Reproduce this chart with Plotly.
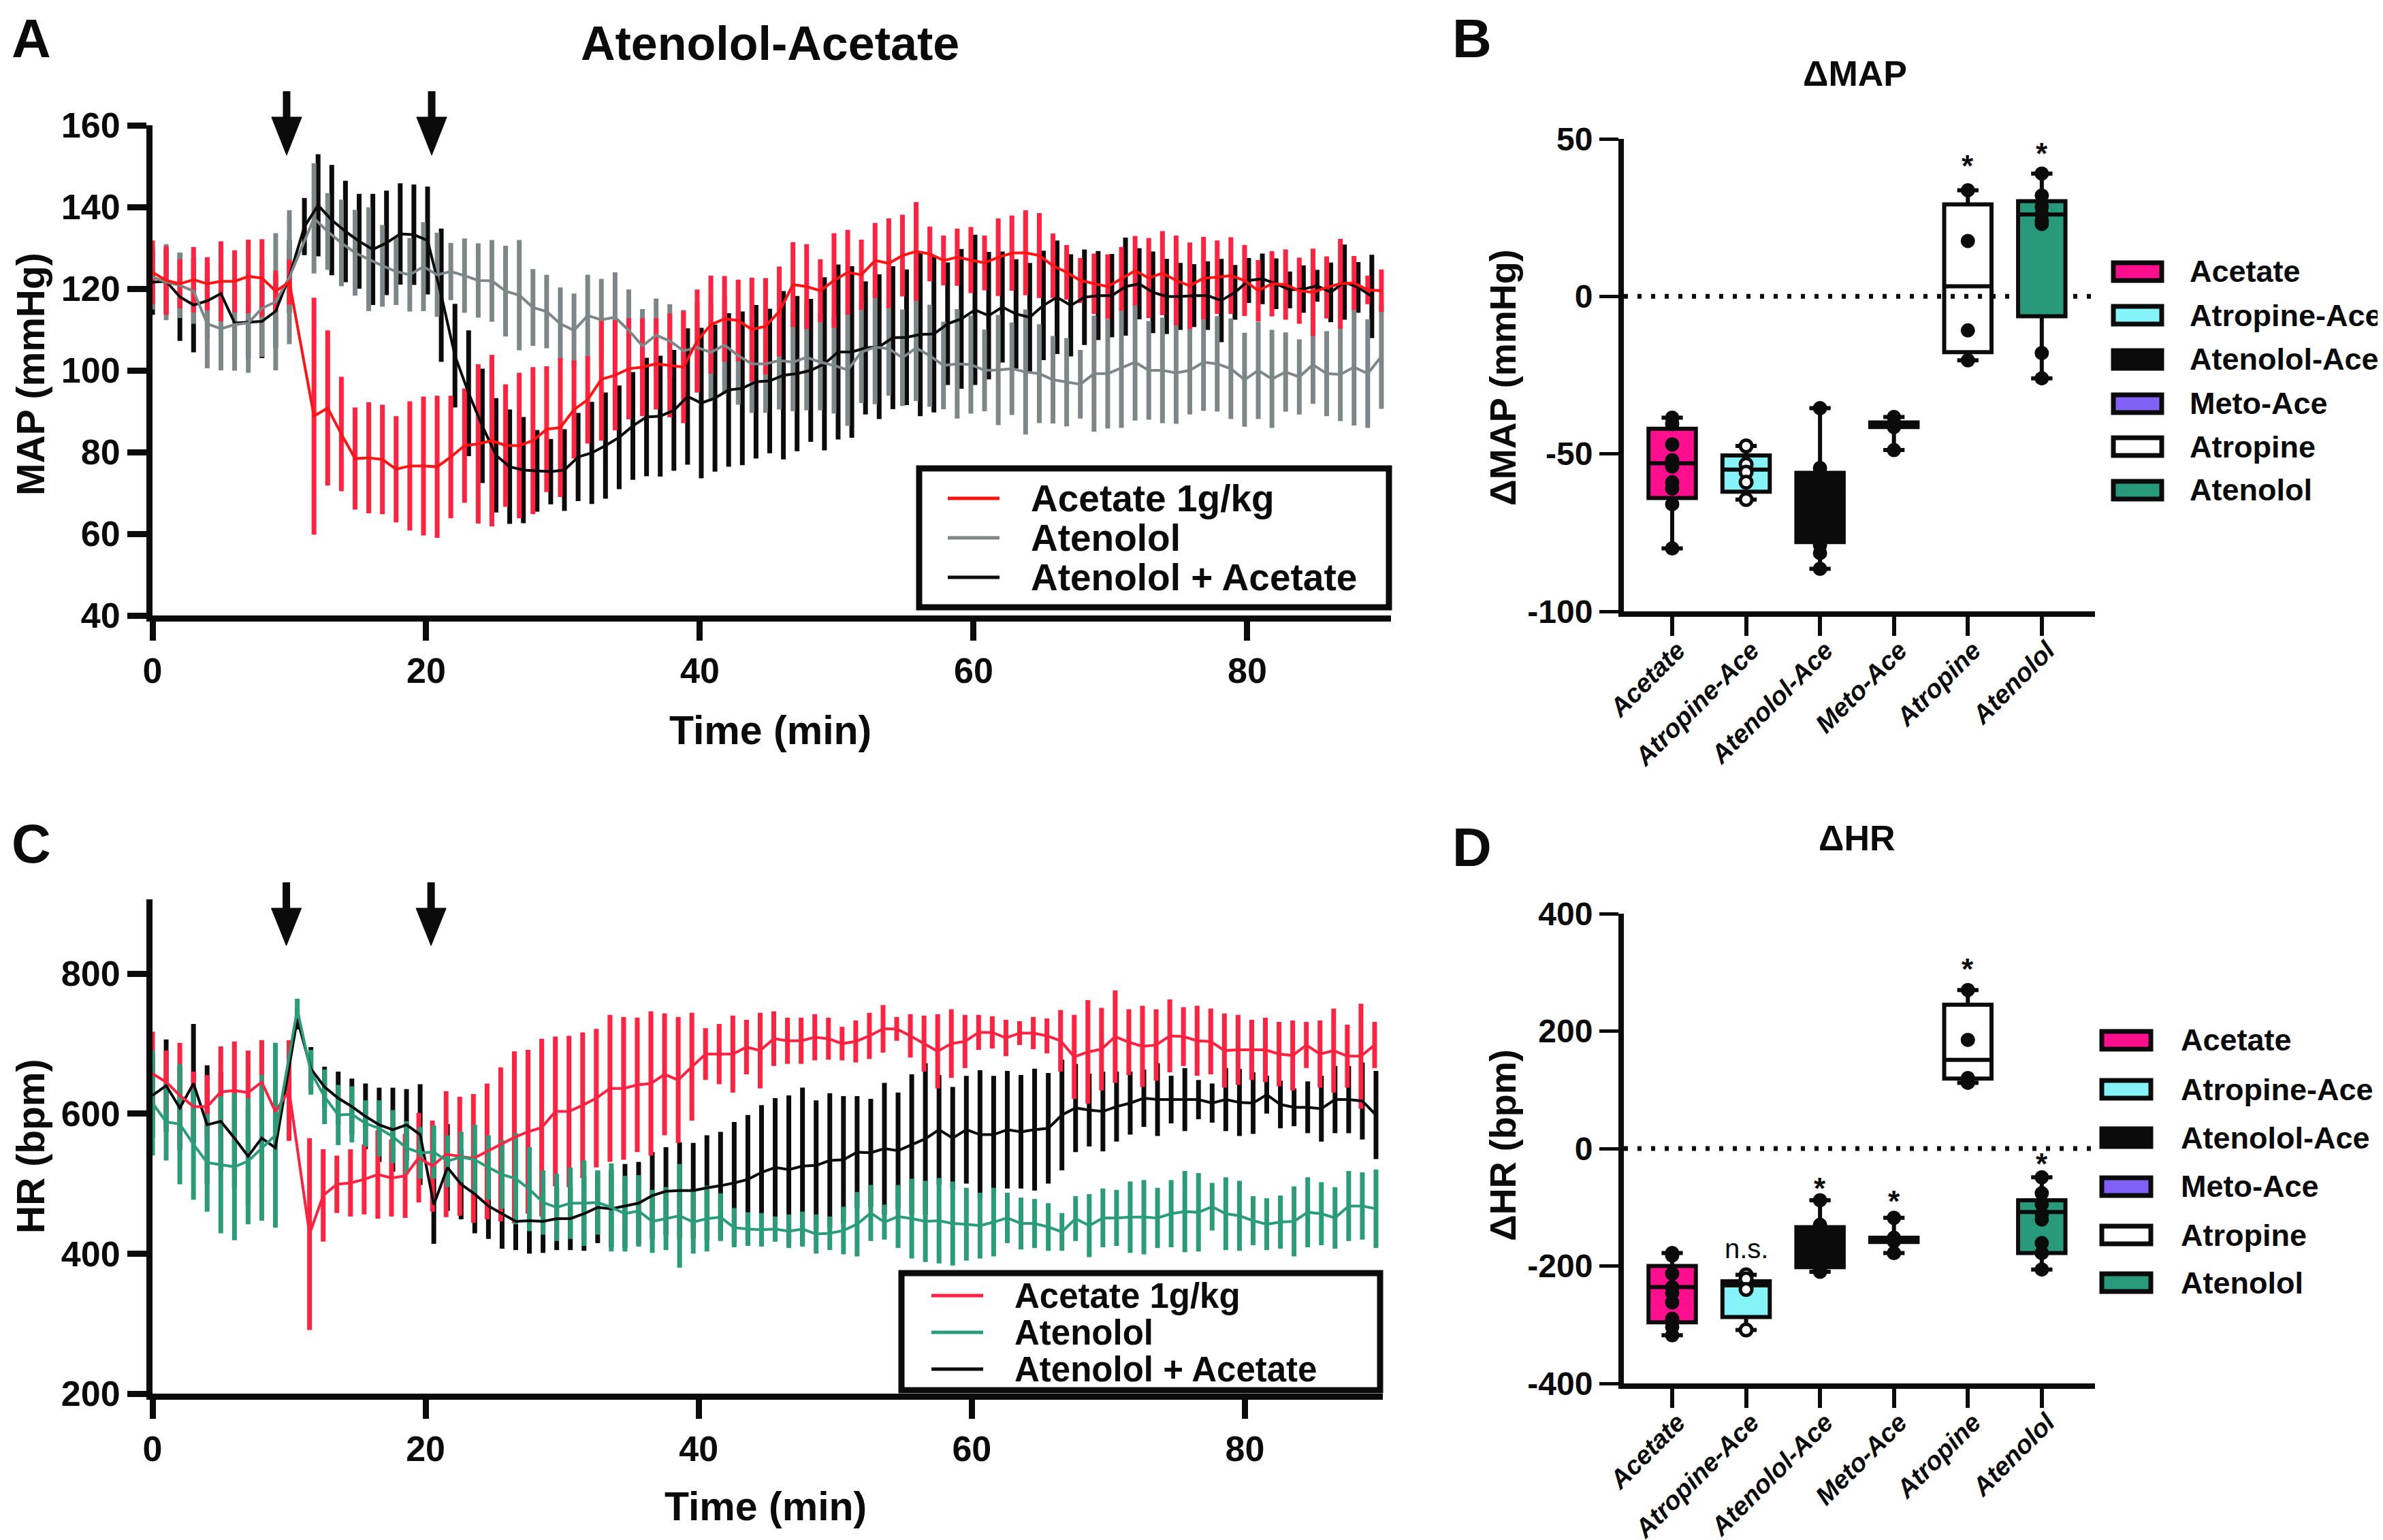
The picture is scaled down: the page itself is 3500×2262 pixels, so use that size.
import plotly.graph_objects as go

W, H = 3500, 2262
FONT = "Liberation Sans, Arial, Helvetica, sans-serif"

# ======================= DATA =======================
# ---- Panel A: MAP (mmHg), mean and SEM ----
MAP_ACE_MEAN = [124, 122, 121.2, 122.2, 121.2, 121.8, 121.8, 123, 122.6, 119.4, 121.6,
                88.8, 90.8, 84.4, 78.4, 78.6, 78.2, 75.8, 76.6, 76.6, 76.4,
                78.8, 81.6, 82, 82.8, 81.6, 81.6, 82.8, 85.6, 86, 90.4,
                92.8, 97.8, 98.8, 100.4, 100.8, 101.6, 101.2, 100.8, 107.2, 111.2,
                112.6, 112.2, 110, 110.8, 114.4, 121, 120.5, 119.5, 122, 124,
                123.4, 126.9, 126.2, 128.1, 129.1, 128.5, 126.9, 127.7, 127, 126.3,
                127.7, 128.7, 128.8, 128.1, 125.6, 124, 122, 121.2, 120.5, 122.4,
                124.4, 122.6, 123.8, 122, 120.7, 122.6, 122.8, 123.2, 122, 119.5,
                121.2, 121, 119.5, 119.1, 120.3, 121.2, 121.4, 119.7, 119.5]
MAP_ACE_SEM = [7.8, 8.4, 6, 8, 6.5, 9.8, 7.6, 9, 9.5, 5, 5.5,
               29, 19, 14, 12.5, 13.6, 13.4, 13, 15.8, 17, 17.4,
               15, 14, 19.5, 21, 15, 17.8, 18, 15.4, 17, 12,
               10.7, 15, 13.5, 12.4, 12, 11.2, 12.7, 13.7, 12.6, 12,
               10.5, 10, 12.7, 11.8, 11, 10.4, 10.4, 7.7, 11.6, 10.4,
               8.6, 9.2, 11, 10, 12.1, 6.7, 6.1, 7, 8.1, 6.7,
               9.5, 9.2, 10.4, 10.4, 7.9, 6.7, 5.5, 7.4, 7.9, 7.8,
               8.5, 9.8, 10.3, 11, 10.6, 10.1, 9, 9.4, 8.7, 7.5,
               8, 8.6, 8.1, 10.7, 7.6, 11, 6.6, 3.5, 5.2]
MAP_ATN_MEAN = [122.8, 121.6, 120.8, 119.4, 111.4, 110.2, 111.2, 111.6, 115.2, 116.8, 122.8,
                137.2, 134, 131.2, 128.8, 127.2, 125.6, 124.2, 123.4, 125.4, 123.4,
                124.2, 123.2, 122, 121.9, 119.4, 118.4, 115.4, 114.4, 111.4, 109.8,
                113.4, 112.4, 113, 109.8, 106, 108.6, 107.2, 104.8, 105.6, 104.4,
                106.2, 103.6, 101.6, 101.6, 102.4, 102, 103.2, 102, 101.2, 100.1,
                104.5, 105.7, 105.3, 103.1, 105.5, 103.6, 101.2, 101.6, 101.4, 100,
                100.1, 100.4, 99.6, 99.2, 97.7, 97.1, 96.6, 99.2, 99.2, 100.6,
                102, 100, 100, 99.4, 100, 102, 101.6, 100.4, 97.7, 100,
                97.9, 99.6, 98.4, 101.4, 99.2, 99, 100.8, 99.2, 103.4]
MAP_ATN_SEM = [7.9, 9.3, 8, 8, 10.9, 10.2, 11.3, 12.2, 11.9, 16.8, 16.4,
               13.5, 9.4, 10.6, 10.5, 12.7, 10, 8.2, 9, 10.9, 10.3,
               7, 9.1, 9.1, 10, 11.1, 13.5, 9.4, 9, 8.9, 9,
               10, 10, 11, 10, 9, 9, 9, 10, 11, 12,
               12, 12, 12, 12, 12, 12, 13, 11.8, 11.8, 13.7,
               12.5, 14, 11.5, 11.8, 13, 12.5, 10.7, 13.4, 12, 10,
               13.5, 11.3, 15.3, 12.1, 10.7, 10.8, 8.4, 14.2, 13.4, 14.7,
               14.3, 12.1, 12.9, 12.5, 10.8, 11.9, 11.7, 12.3, 11.5, 11.9,
               12, 9.7, 9.2, 9.6, 10.4, 11.4, 14.3, 13.3, 12.8]
MAP_COMB_MEAN = [121.6, 121.8, 118, 116, 117, 118.8, 111.6, 111.8, 112, 114.5, 123,
                 135.2, 140.4, 136.8, 134, 131.6, 129.6, 131.2, 133.4, 133.2, 131.8,
                 118.4, 103.6, 94.4, 86.4, 79.2, 76.4, 75.6, 75.4, 75.2, 75.6,
                 78.8, 79.8, 81.6, 83.6, 86.4, 88.6, 88.8, 90.2, 93.6, 92,
                 93.2, 95.2, 95.6, 97.2, 97.4, 98.8, 99.2, 100, 101.6, 104.5,
                 104.5, 105.5, 105.8, 108, 108.1, 108.8, 108.9, 111.4, 112.6, 114.8,
                 113.4, 115.5, 113.8, 113, 115.9, 117.9, 115.9, 117.9, 118.3, 118.3,
                 120.5, 121.2, 119.1, 118.1, 118.1, 118.3, 118.3, 117.1, 119.1, 122,
                 122.4, 121.2, 119.7, 119.9, 120.7, 119.1, 121.6, 120.3, 118.1]
MAP_COMB_SEM = [8, 8, 10.8, 11.6, 9, 9, 9, 9, 9, 9, 9,
                7, 12.5, 13.5, 12.4, 11.6, 13.6, 12.8, 12.4, 12.3, 13.2,
                16.3, 12.7, 15.4, 14, 14, 14, 13, 10, 8, 10,
                10.8, 12.5, 13, 12.7, 13.2, 14.5, 14.8, 14.8, 16.7, 18.4,
                18, 18.8, 18.8, 18.8, 17.7, 20.6, 19, 17.5, 21.2, 21.4,
                21, 16.3, 17.7, 17.5, 16.6, 20, 19.2, 15, 17.1, 18.4,
                15.6, 13.6, 13.4, 13.3, 13.4, 13.9, 12.5, 11.7, 10.9, 10.2,
                12, 8.7, 10, 9.2, 8.2, 7.7, 8.4, 10.2, 6.7, 5.5,
                6.2, 6.2, 4.5, 5.8, 3.9, 7.3, 9.2, 6.2, 10.2]

# ---- Panel C: HR (bpm), mean and SEM ----
HR_ACE_MEAN = [657, 645, 626, 610, 610, 631, 633, 630, 645, 603, 633,
               428, 483, 499, 501, 506, 513, 508, 511, 537, 525,
               542, 539, 536, 546, 556, 566, 574, 580, 603, 603,
               612, 622, 636, 636, 641, 643, 656, 648, 667, 685,
               685, 685, 695, 690, 707, 704, 704, 709, 707, 700,
               703, 711, 721, 721, 711, 700, 689, 700, 703, 716,
               716, 708, 715, 715, 711, 704, 681, 688, 692, 710,
               702, 696, 698, 711, 710, 704, 703, 690, 691, 691,
               691, 685, 683, 698, 685, 690, 682, 682, 698]
HR_ACE_SEM = [60, 45, 75, 50, 45, 65, 70, 60, 60, 50, 72,
              137, 66, 41, 48, 50, 63, 55, 60, 64, 65,
              90, 85, 92, 97, 110, 123, 117, 127, 107, 108,
              104, 99, 105, 102, 96, 103, 87, 90, 77, 37,
              43, 55, 39, 54, 39, 33, 33, 33, 30, 24,
              30, 33, 34, 17, 31, 40, 53, 49, 38, 25,
              23, 26, 17, 23, 25, 44, 60, 74, 59, 66,
              47, 58, 51, 52, 42, 50, 47, 53, 50, 43,
              46, 46, 50, 33, 48, 60, 45, 75, 33]
HR_ATN_MEAN = [615, 588, 585, 556, 530, 527, 524, 532, 551, 569,
               749, 659, 624, 598, 599, 586, 579, 567, 551, 544,
               545, 532, 538, 534, 523, 513, 507, 492, 473, 466,
               472, 472, 473, 466, 457, 461, 446, 450, 454, 445,
               450, 452, 437, 435, 434, 435, 432, 435, 428, 429,
               433, 442, 458, 445, 453, 450, 446, 447, 443, 442,
               440, 445, 451, 443, 443, 438, 431, 450, 440, 451,
               451, 452, 452, 451, 457, 460, 459, 467, 457, 454,
               447, 442, 445, 446, 459, 457, 451, 468, 468, 464]
HR_ATN_SEM = [75, 55, 86, 79, 70, 98, 105, 90, 104, 132,
              15, 32, 39, 43, 40, 33, 40, 38, 38, 37,
              38, 37, 36, 50, 46, 49, 65, 60, 46, 48,
              51, 61, 46, 63, 54, 51, 45, 45, 74, 45,
              47, 34, 28, 24, 24, 18, 24, 25, 28, 24,
              34, 46, 40, 25, 45, 57, 58, 61, 60, 52,
              47, 49, 36, 37, 35, 34, 27, 32, 45, 42,
              40, 51, 53, 43, 48, 58, 56, 34, 52, 50,
              35, 37, 38, 50, 50, 45, 44, 50, 48, 56]
HR_COMB_MEAN = [626, 640, 608, 643, 584, 589, 565, 539, 565, 551,
                735, 664, 638, 622, 610, 596, 584, 577, 584, 570,
                470, 523, 499, 485, 468, 457, 446, 447, 446, 450,
                450, 457, 466, 464, 468, 472, 483, 489, 490, 490,
                494, 497, 501, 506, 516, 523, 520, 525, 526, 533,
                534, 545, 544, 550, 547, 556, 564, 577, 565, 577,
                570, 570, 577, 574, 577, 579, 598, 608, 605, 603,
                610, 615, 622, 620, 620, 620, 620, 615, 620, 616,
                615, 627, 613, 609, 609, 607, 620, 620, 618, 598]
HR_COMB_SEM = [60, 66, 60, 85, 85, 70, 70, 70, 70, 70,
               15, 31, 29, 38, 40, 47, 53, 60, 51, 72,
               56, 62, 50, 56, 47, 50, 41, 47, 45, 45,
               45, 53, 51, 55, 60, 59, 62, 63, 69, 68,
               75, 77, 87, 92, 96, 99, 106, 112, 93, 96,
               91, 80, 77, 94, 83, 100, 108, 78, 73, 77,
               92, 84, 84, 81, 87, 79, 79, 63, 52, 57,
               50, 45, 41, 52, 34, 45, 28, 28, 45, 48,
               44, 27, 34, 27, 37, 47, 48, 48, 55, 63]

# ---- sampling times (min): baseline minutes, then 1-min samples after injection ----
T_MAP_ACE = list(range(0, 11)) + [round(11.8 + k, 1) for k in range(79)]
T_MAP_ATN = T_MAP_ACE
T_MAP_COMB = list(range(0, 11)) + [round(11.1 + k, 1) for k in range(79)]
T_HR_ACE = list(range(0, 11)) + [round(11.5 + k, 1) for k in range(79)]
T_HR_ATN = list(range(0, 10)) + [round(10.6 + k, 1) for k in range(80)]
T_HR_COMB = T_HR_ATN
ARROW_TIMES = [9.8, 20.4]

# ---- Panels B & D: box plots ----
GROUPS = ["Acetate", "Atropine-Ace", "Atenolol-Ace", "Meto-Ace", "Atropine", "Atenolol"]
DMAP_MIN = [-80, -64.5, -86.5, -48.8, -20.3, -26]
DMAP_Q1 = [-64, -62, -78, -41.5, -17.7, -6.3]
DMAP_MED = [-53, -55, -63, -40.8, 3.2, 26]
DMAP_Q3 = [-42, -50.5, -56, -40, 29.2, 30.2]
DMAP_MAX = [-38.5, -47.5, -35.5, -38.3, 33.7, 39]
DMAP_POINTS = [[-38.5, -40.5, -47, -52, -54, -59, -61, -66, -80],
               [-47.5, -53.3, -55.8, -59, -64.5],
               [-35.5, -54.5, -56, -57.5, -66, -79, -81.5, -86.5],
               [-38.3, -40.5, -41.5, -48.8],
               [33.7, 17.6, -10.8, -20.3],
               [39, 32, 28.5, 26, 24, 23, -18, -26]]
DMAP_SIG = ["", "", "", "", "*", "*"]
DMAP_SIG_Y = [None, None, None, None, 43.6, 47.5]

DHR_MIN = [-318, -309, -210, -178, 112, -206]
DHR_Q1 = [-296, -287, -202, -159, 119, -178]
DHR_MED = [-236, -233, -170, -155, 151, -108]
DHR_Q3 = [-200, -226, -134, -152, 245, -88]
DHR_MAX = [-178, -215, -88, -118, 270, -49]
DHR_POINTS = [[-178, -182, -213, -236, -246, -262, -290, -304, -318],
              [-215, -222, -240, -309],
              [-88, -130, -137, -140, -200, -205, -210],
              [-118, -152, -158, -178],
              [270, 185, 120, 112],
              [-49, -76, -95, -112, -121, -161, -178, -206]]
DHR_SIG = ["", "n.s.", "*", "*", "*", "*"]
DHR_SIG_Y = [None, -171, -56, -78, 317, -15]

# ======================= STYLE =======================
BLACK = "#0B0B0B"
RED_BAR = "#FF2341"
RED_LINE_A = "#FF1414"
RED_LINE_C = "#FF2240"
GRAY = "#7E8787"
GREEN = "#2A9C78"
BOX_COLORS = ["#FF0E8E", "#86F3F9", BLACK, "#8060F5", "rgba(255,255,255,0)", "#28997A"]
LEG_COLORS = ["#FF0E8E", "#86F3F9", BLACK, "#8060F5", "#FFFFFF", "#28997A"]


def fx(p):
    return p / W


def fy(p):
    return 1 - p / H


def b(s):
    return f"<b>{s}</b>"


fig = go.Figure()


def add_bars(xa, ya, t, mean, sem, color):
    fig.add_trace(go.Scatter(
        x=t, y=mean, mode="markers", marker=dict(size=1, color="rgba(0,0,0,0)"),
        error_y=dict(type="data", array=sem, symmetric=True, color=color, thickness=7, width=0),
        xaxis=xa, yaxis=ya, showlegend=False, hoverinfo="skip"))


def add_line(xa, ya, t, mean, color, width=4):
    fig.add_trace(go.Scatter(
        x=t, y=mean, mode="lines", line=dict(color=color, width=width),
        xaxis=xa, yaxis=ya, showlegend=False, hoverinfo="skip"))


# Panel A
add_bars("x", "y", T_MAP_COMB, MAP_COMB_MEAN, MAP_COMB_SEM, BLACK)
add_bars("x", "y", T_MAP_ATN, MAP_ATN_MEAN, MAP_ATN_SEM, GRAY)
add_bars("x", "y", T_MAP_ACE, MAP_ACE_MEAN, MAP_ACE_SEM, RED_BAR)
add_line("x", "y", T_MAP_COMB, MAP_COMB_MEAN, BLACK)
add_line("x", "y", T_MAP_ATN, MAP_ATN_MEAN, GRAY)
add_line("x", "y", T_MAP_ACE, MAP_ACE_MEAN, RED_LINE_A)

# Panel C
add_bars("x3", "y3", T_HR_COMB, HR_COMB_MEAN, HR_COMB_SEM, BLACK)
add_bars("x3", "y3", T_HR_ACE, HR_ACE_MEAN, HR_ACE_SEM, RED_BAR)
add_bars("x3", "y3", T_HR_ATN, HR_ATN_MEAN, HR_ATN_SEM, GREEN)
add_line("x3", "y3", T_HR_COMB, HR_COMB_MEAN, BLACK)
add_line("x3", "y3", T_HR_ACE, HR_ACE_MEAN, RED_LINE_C)
add_line("x3", "y3", T_HR_ATN, HR_ATN_MEAN, GREEN)


def add_boxes(xa, ya, mins, q1, med, q3, maxs, points):
    for i in range(len(GROUPS)):
        fig.add_trace(go.Box(
            x=[i], q1=[q1[i]], median=[med[i]], q3=[q3[i]],
            lowerfence=[mins[i]], upperfence=[maxs[i]],
            width=0.64, whiskerwidth=0.45, boxpoints=False,
            fillcolor=BOX_COLORS[i], line=dict(color=BLACK, width=6),
            xaxis=xa, yaxis=ya, showlegend=False, hoverinfo="skip"))
    for i in range(len(GROUPS)):
        hollow = GROUPS[i] == "Atropine-Ace"
        fig.add_trace(go.Scatter(
            x=[i] * len(points[i]), y=points[i], mode="markers",
            marker=dict(size=17 if hollow else 21,
                        color="white" if hollow else BLACK,
                        line=dict(color=BLACK, width=5 if hollow else 0)),
            xaxis=xa, yaxis=ya, showlegend=False, hoverinfo="skip"))


add_boxes("x2", "y2", DMAP_MIN, DMAP_Q1, DMAP_MED, DMAP_Q3, DMAP_MAX, DMAP_POINTS)
add_boxes("x4", "y4", DHR_MIN, DHR_Q1, DHR_MED, DHR_Q3, DHR_MAX, DHR_POINTS)

# ======================= AXES =======================
base = dict(showline=True, linecolor=BLACK, showgrid=False, zeroline=False,
            ticks="outside", tickcolor=BLACK, fixedrange=True, automargin=False)
ts_font = dict(family=FONT, size=52, color=BLACK)
box_font = dict(family=FONT, size=48, color=BLACK)
cat_font = dict(family=FONT, size=38, color=BLACK)

TS_X_TICKS = [0, 20, 40, 60, 80]
MAP_TICKS = [40, 60, 80, 100, 120, 140, 160]
HR_TICKS = [200, 400, 600, 800]
DMAP_TICKS = [-100, -50, 0, 50]
DHR_TICKS = [-400, -200, 0, 200, 400]

cat_axis = dict(base, range=[-0.654, 5.72], linewidth=8, tickwidth=6, ticklen=28, tickangle=-45,
                tickvals=list(range(6)), ticktext=[f"<b><i>{g}</i></b>" for g in GROUPS],
                tickfont=cat_font, ticklabelstandoff=-16, ticklabelshift=8)

fig.update_layout(
    width=W, height=H, margin=dict(l=0, r=0, t=0, b=0, pad=0, autoexpand=False),
    paper_bgcolor="white", plot_bgcolor="rgba(0,0,0,0)",
    boxmode="overlay", showlegend=False,
    xaxis=dict(base, domain=[fx(216), fx(2035)], range=[0, 90.5], anchor="y",
               linewidth=9, tickwidth=9, ticklen=28,
               tickvals=TS_X_TICKS, ticktext=[b(v) for v in TS_X_TICKS], tickfont=ts_font),
    yaxis=dict(base, domain=[fy(896), fy(176)], range=[40, 160], anchor="x",
               linewidth=9, tickwidth=9, ticklen=28,
               tickvals=MAP_TICKS, ticktext=[b(v) for v in MAP_TICKS], tickfont=ts_font),
    xaxis3=dict(base, domain=[fx(216), fx(2023)], range=[0, 90.1], anchor="y3",
                linewidth=9, tickwidth=9, ticklen=28,
                tickvals=TS_X_TICKS, ticktext=[b(v) for v in TS_X_TICKS], tickfont=ts_font),
    yaxis3=dict(base, domain=[fy(2039), fy(1313)], range=[200, 906], anchor="x3",
                linewidth=9, tickwidth=9, ticklen=28,
                tickvals=HR_TICKS, ticktext=[b(v) for v in HR_TICKS], tickfont=ts_font),
    xaxis2=dict(cat_axis, domain=[fx(2377), fx(3069)], anchor="y2"),
    yaxis2=dict(base, domain=[fy(890), fy(196)], range=[-100, 50], anchor="x2",
                linewidth=8, tickwidth=5, ticklen=28,
                tickvals=DMAP_TICKS, ticktext=[b(v) for v in DMAP_TICKS], tickfont=box_font),
    xaxis4=dict(cat_axis, domain=[fx(2377), fx(3069)], anchor="y4"),
    yaxis4=dict(base, domain=[fy(2024), fy(1334)], range=[-400, 400], anchor="x4",
                linewidth=8, tickwidth=5, ticklen=28,
                tickvals=DHR_TICKS, ticktext=[b(v) for v in DHR_TICKS], tickfont=box_font),
)

shapes = []
annotations = []


def text(x, y, s, size, angle=0, xanchor="center", yanchor="middle", bold=True, ref=("paper", "paper"), yshift=0):
    annotations.append(dict(
        x=x, y=y, xref=ref[0], yref=ref[1], text=b(s) if bold else s, showarrow=False,
        font=dict(family=FONT, size=size, color=BLACK), textangle=angle,
        xanchor=xanchor, yanchor=yanchor, yshift=yshift, borderpad=0))


# Panel letters & titles
text(fx(38), fy(48), "A", 80)
text(fx(2154), fy(48), "B", 80)
text(fx(38), fy(1231), "C", 80)
text(fx(2154), fy(1236), "D", 80)
text(fx(1123), fy(56), "Atenolol-Acetate", 70)
text(fx(2716), fy(100), "ΔMAP", 52)
text(fx(2719), fy(1223), "ΔHR", 52)

# Axis titles
text(fx(37), fy(542), "MAP (mmHg)", 57, angle=-90)
text(fx(1123), fy(1065), "Time (min)", 59)
text(fx(37), fy(1676), "HR (bpm)", 57, angle=-90)
text(fx(1116), fy(2205), "Time (min)", 59)
text(fx(2199), fy(547), "ΔMAP (mmHg)", 54, angle=-90)
text(fx(2199), fy(1674), "ΔHR (bpm)", 54, angle=-90)

# Injection arrows (panels A and C)
for (xa, top, head, tip) in [("x", 126, 164, 220), ("x3", 1288, 1326, 1381)]:
    for t in ARROW_TIMES:
        shapes.append(dict(type="line", xref=xa, yref="paper", x0=t, x1=t,
                           y0=fy(top), y1=fy(head + 4), line=dict(color=BLACK, width=11)))
        hw = 1.1
        shapes.append(dict(type="path", xref=xa, yref="paper",
                           path=f"M {t - hw},{fy(head)} L {t + hw},{fy(head)} L {t},{fy(tip)} Z",
                           fillcolor=BLACK, line=dict(color=BLACK, width=1)))

# Time-series legends
for (x0, x1, y0, y1, rows, lx0, lx1, tx, cols, fs) in [
        (1342, 2032, 680, 884, [724, 782, 840], 1384, 1460, 1505, [RED_LINE_A, GRAY, BLACK], 55),
        (1316, 2019, 1862, 2034, [1895, 1949, 2003], 1360, 1436, 1481, [RED_LINE_C, GREEN, BLACK], 51)]:
    shapes.append(dict(type="rect", xref="paper", yref="paper", x0=fx(x0), x1=fx(x1),
                       y0=fy(y1), y1=fy(y0), fillcolor="white", line=dict(color=BLACK, width=9),
                       layer="above"))
    labels = ["Acetate 1g/kg", "Atenolol", "Atenolol + Acetate"]
    for r, c, lab in zip(rows, cols, labels):
        shapes.append(dict(type="line", xref="paper", yref="paper", x0=fx(lx0), x1=fx(lx1),
                           y0=fy(r), y1=fy(r), line=dict(color=c, width=5)))
        text(fx(tx), fy(r), lab, fs, xanchor="left")

# Box-plot legends
for (rows, sx0, sx1, tx) in [([391, 455, 520, 585, 648, 712], 3096, 3167, 3207),
                             ([1520, 1592, 1663, 1735, 1806, 1876], 3079, 3151, 3194)]:
    for r, c, g in zip(rows, LEG_COLORS, GROUPS):
        shapes.append(dict(type="rect", xref="paper", yref="paper", x0=fx(sx0), x1=fx(sx1),
                           y0=fy(r + 13), y1=fy(r - 13), fillcolor=c,
                           line=dict(color=BLACK, width=7)))
        text(fx(tx), fy(r), g, 45, xanchor="left")

# Dotted zero lines
for xa, ya in [("x2", "y2"), ("x4", "y4")]:
    shapes.append(dict(type="line", xref=xa, yref=ya, x0=-0.654, x1=5.72, y0=0, y1=0,
                       line=dict(color=BLACK, width=7, dash="6px,14px"), layer="below"))

# Significance marks
for xa, ya, sig, sy in [("x2", "y2", DMAP_SIG, DMAP_SIG_Y), ("x4", "y4", DHR_SIG, DHR_SIG_Y)]:
    for i, (s, y) in enumerate(zip(sig, sy)):
        if not s:
            continue
        if s == "*":
            text(i, y, "*", 44, ref=(xa, ya), yshift=-10)
        else:
            text(i, y, s, 40, ref=(xa, ya), bold=False)

fig.update_layout(shapes=shapes, annotations=annotations)
fig.write_html("out.html")
